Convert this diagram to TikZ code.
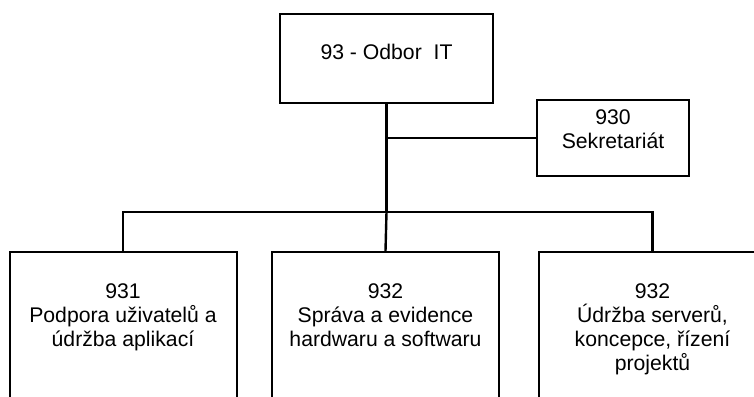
\documentclass[tikz,border=0pt]{standalone}
\usepackage{fontspec}
\setmainfont{Liberation Sans}
\usepackage{tikz}
\usetikzlibrary{positioning}
\tikzstyle{utvar} = [draw, line width=2pt, align=center, anchor=north, inner xsep=0pt, font=\fontsize{21.2}{24}\selectfont]
\tikzstyle{oddeleni} = [utvar, minimum width=227pt, inner ysep=31.4pt, text depth=150pt]
\tikzstyle{spoj} = [line width=2.4pt]

\begin{document}
\begin{tikzpicture}[x=1pt,y=-1pt]
    \useasboundingbox (0,0) rectangle (754,396);
    \clip (0,0) rectangle (754,396);

    % Vedeni odboru
    \node[utvar, minimum width=213pt, inner ysep=29.7pt, text height=15.5pt, text depth=14.1pt] (odbor) at (386.5,13) {93 - Odbor\ \ IT};
    \node[utvar, minimum width=152pt, inner ysep=9pt, text height=39.5pt, text depth=18.5pt] (sekr) at (613,99) {930\\Sekretariát};

    % Oddeleni
    \node[oddeleni, text height=63.5pt] (podpora) at (123,251) {931\\Podpora uživatelů a\\údržba aplikací};
    \node[oddeleni, text height=63.5pt] (sprava) at (385.5,251) {932\\Správa a evidence\\hardwaru a softwaru};
    \node[oddeleni, text height=87.5pt] (servery) at (652.5,251) {932\\Údržba serverů,\\koncepce, řízení\\projektů};

    % Spojnice
    \coordinate (sbernice) at (386.5,212);
    \draw[spoj] (odbor.south) -- (sbernice);
    \draw[spoj] (odbor.south |- sekr.west) -- (sekr.west);
    \draw[spoj] (podpora.north) |- (sbernice) -| (servery.north);
    \draw[spoj] (sbernice) -- (sprava.north);
\end{tikzpicture}
\end{document}
